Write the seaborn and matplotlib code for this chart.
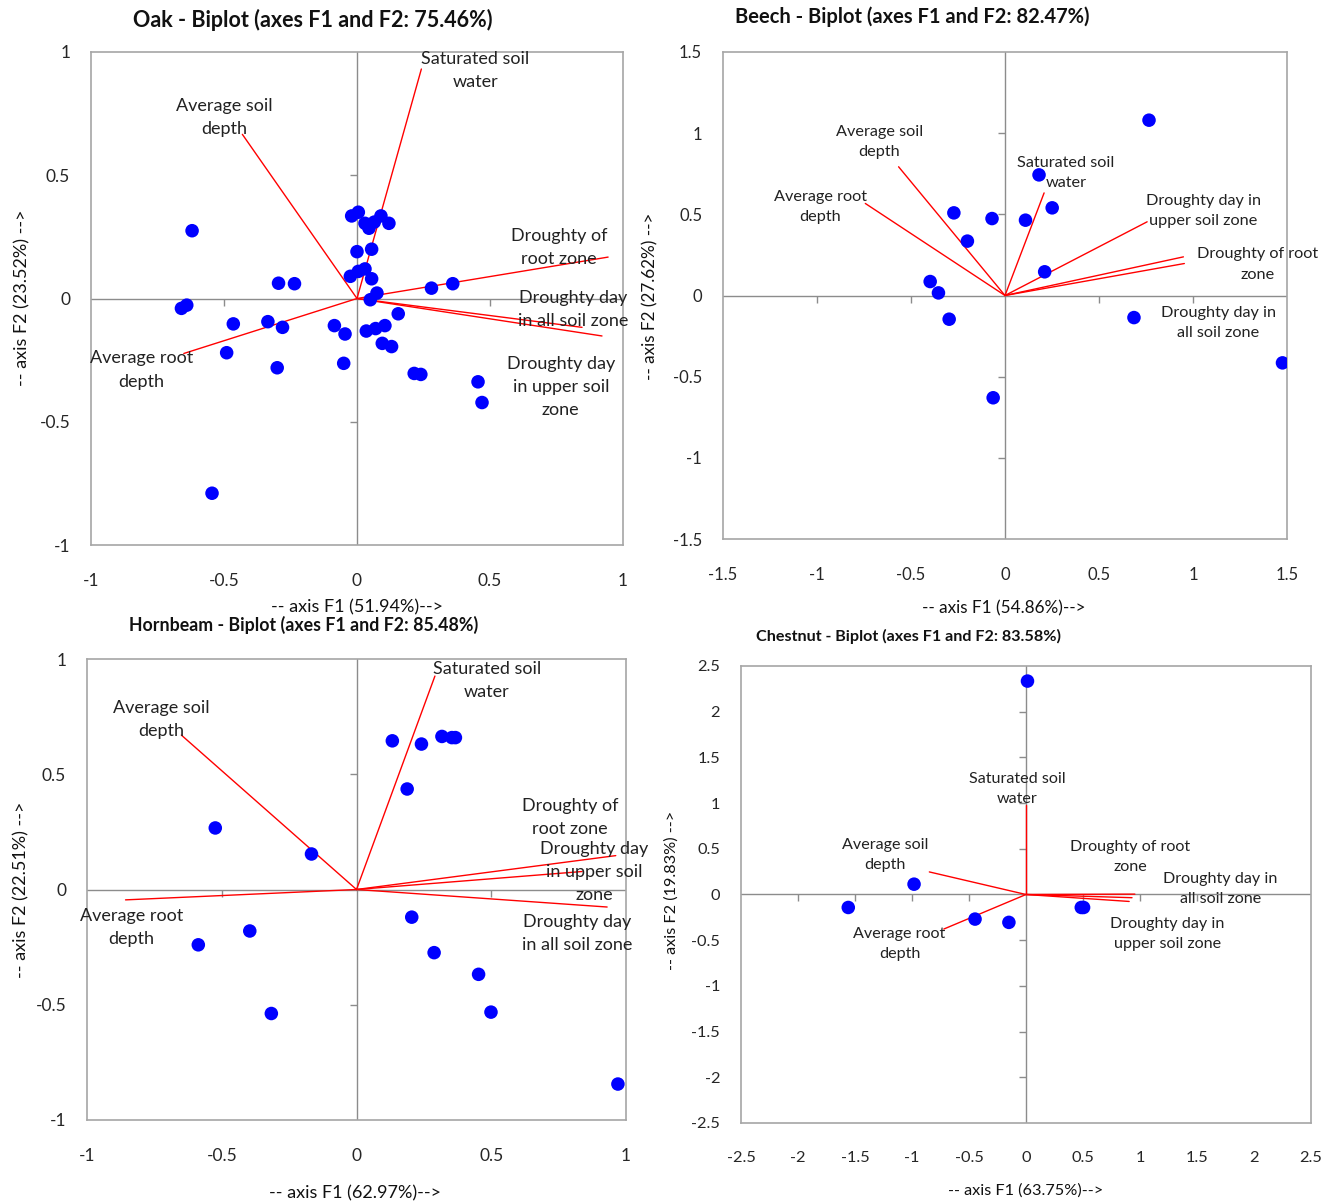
import numpy as np
import matplotlib
matplotlib.use("Agg")
import matplotlib.pyplot as plt
import seaborn as sns

sns.set_style("white")
plt.rcParams['font.family'] = ['Lato', 'DejaVu Sans']
plt.rcParams['axes.unicode_minus'] = False

# variables (order used in every panel)
variables = ["Saturated soil water", "Average soil depth", "Average root depth",
             "Droughty of root zone", "Droughty day in all soil zone",
             "Droughty day in upper soil zone"]

# ---- Oak ----
oak_f1 = [-0.62, -0.02, 0.005, 0.03, 0.045, 0.065, 0.09, 0.12, 0.0, 0.055, -0.025, 0.005,
          0.03, 0.055, -0.295, -0.235, 0.075, 0.28, 0.36, -0.66, -0.64, 0.05, -0.465, -0.335,
          -0.28, -0.085, -0.045, 0.155, 0.035, 0.07, 0.105, 0.095, 0.13, -0.49, -0.3, -0.05,
          0.215, 0.24, 0.455, 0.47, -0.545]
oak_f2 = [0.275, 0.335, 0.35, 0.305, 0.285, 0.31, 0.335, 0.305, 0.19, 0.2, 0.09, 0.11,
          0.12, 0.08, 0.062, 0.06, 0.022, 0.042, 0.06, -0.04, -0.027, -0.005, -0.103, -0.094,
          -0.117, -0.11, -0.144, -0.062, -0.132, -0.122, -0.11, -0.182, -0.195, -0.22, -0.281,
          -0.263, -0.304, -0.308, -0.338, -0.422, -0.79]
oak_var_f1 = [0.242, -0.431, -0.651, 0.944, 0.846, 0.921]
oak_var_f2 = [0.931, 0.666, -0.223, 0.168, -0.117, -0.152]
oak_labels = ["Saturated soil\nwater", "Average soil\ndepth", "Average root\ndepth",
              "Droughty of\nroot zone", "Droughty day\nin all soil zone",
              "Droughty day\nin upper soil\nzone"]
oak_lab_x = [0.445, -0.499, -0.81, 0.759, 0.811, 0.766]
oak_lab_y = [0.925, 0.734, -0.29, 0.208, -0.043, -0.358]

# ---- Beech ----
beech_f1 = [0.766, 0.181, 0.251, -0.272, -0.069, 0.109, -0.2, 0.211, -0.398, -0.354,
            -0.297, 0.686, 1.476, -0.063]
beech_f2 = [1.08, 0.743, 0.54, 0.509, 0.474, 0.464, 0.335, 0.146, 0.086, 0.016,
            -0.146, -0.136, -0.415, -0.63]
beech_var_f1 = [0.208, -0.566, -0.743, 0.949, 0.954, 0.756]
beech_var_f2 = [0.632, 0.793, 0.567, 0.238, 0.197, 0.454]
beech_labels = ["Saturated soil\nwater", "Average soil\ndepth", "Average root\ndepth",
                "Droughty of root\nzone", "Droughty day in\nall soil zone",
                "Droughty day in\nupper soil zone"]
beech_lab_x = [0.324, -0.669, -0.983, 1.345, 1.135, 1.055]
beech_lab_y = [0.752, 0.947, 0.546, 0.191, -0.168, 0.522]

# ---- Hornbeam ----
hornbeam_f1 = [0.133, 0.241, 0.317, 0.354, 0.367, 0.188, -0.524, -0.167, 0.205, -0.396,
               -0.587, 0.288, 0.453, -0.316, 0.499, 0.97]
hornbeam_f2 = [0.645, 0.631, 0.664, 0.659, 0.659, 0.436, 0.267, 0.154, -0.12, -0.18,
               -0.24, -0.274, -0.368, -0.538, -0.532, -0.844]
hornbeam_var_f1 = [0.291, -0.65, -0.857, 0.962, 0.93, 0.837]
hornbeam_var_f2 = [0.926, 0.67, -0.045, 0.147, -0.076, 0.078]
hornbeam_labels = ["Saturated soil\nwater", "Average soil\ndepth", "Average root\ndepth",
                   "Droughty of\nroot zone", "Droughty day\nin all soil zone",
                   "Droughty day\nin upper soil\nzone"]
hornbeam_lab_x = [0.484, -0.725, -0.834, 0.793, 0.82, 0.883]
hornbeam_lab_y = [0.908, 0.739, -0.166, 0.313, -0.192, 0.075]

# ---- Chestnut ----
chestnut_f1 = [0.013, -0.982, -1.559, -0.447, -0.15, 0.485, 0.505]
chestnut_f2 = [2.335, 0.113, -0.142, -0.269, -0.305, -0.142, -0.142]
chestnut_var_f1 = [0.0, -0.848, -0.721, 0.955, 0.93, 0.905]
chestnut_var_f2 = [0.978, 0.247, -0.378, 0.004, -0.035, -0.076]
chestnut_labels = ["Saturated soil\nwater", "Average soil\ndepth", "Average root\ndepth",
                   "Droughty of root\nzone", "Droughty day in\nall soil zone",
                   "Droughty day in\nupper soil zone"]
chestnut_lab_x = [-0.08, -1.239, -1.109, 0.912, 1.706, 1.239]
chestnut_lab_y = [1.153, 0.433, -0.542, 0.407, 0.058, -0.429]

W, H = 1325, 1202
fig = plt.figure(figsize=(W / 100, H / 100), dpi=100)


def box(l, t, r, b):
    # pixel box -> figure fraction rect
    return [l / W, 1 - b / H, (r - l) / W, (b - t) / H]


def biplot(ax, f1, f2, vf1, vf2, labels, lx, ly, lim, lab_fs=13, tick_fs=12.5):
    ticks = np.arange(-lim, lim + 0.01, 0.5)
    ax.axhline(0, color='#8c8c8c', lw=1, zorder=1)
    ax.axvline(0, color='#8c8c8c', lw=1, zorder=1)
    inner = [t for t in ticks if abs(t) > 1e-9 and abs(abs(t) - lim) > 1e-9]
    ax.plot(inner, np.zeros(len(inner)), ls='none', marker=3, ms=5, color='#8c8c8c', mew=1)
    ax.plot(np.zeros(len(inner)), inner, ls='none', marker=0, ms=5, color='#8c8c8c', mew=1)
    for x, y in zip(vf1, vf2):
        ax.plot([0, x], [0, y], color='red', lw=1, zorder=2)
    sns.scatterplot(x=f1, y=f2, ax=ax, color='#0000ff', s=95, edgecolor='none', zorder=3)
    for s, x, y in zip(labels, lx, ly):
        ax.text(x, y, s, ha='center', va='center', fontsize=lab_fs, color='#222222',
                linespacing=1.55, zorder=4, clip_on=False)
    ax.set_xlim(-lim, lim)
    ax.set_ylim(-lim, lim)
    ax.set_xticks(ticks)
    ax.set_yticks(ticks)
    ax.set_xticklabels(['%g' % t for t in ticks])
    ax.set_yticklabels(['%g' % t for t in ticks])
    ax.tick_params(axis='x', length=0, pad=20, labelsize=tick_fs)
    ax.tick_params(axis='y', length=0, pad=15, labelsize=tick_fs)
    for sp in ax.spines.values():
        sp.set_color('#a6a6a6')
        sp.set_linewidth(1.2)


ax1 = fig.add_axes(box(91, 52, 623, 545))
biplot(ax1, oak_f1, oak_f2, oak_var_f1, oak_var_f2, oak_labels, oak_lab_x, oak_lab_y, 1)
ax2 = fig.add_axes(box(723, 52, 1287, 539))
biplot(ax2, beech_f1, beech_f2, beech_var_f1, beech_var_f2, beech_labels, beech_lab_x,
       beech_lab_y, 1.5, lab_fs=11.7, tick_fs=12)
ax3 = fig.add_axes(box(87, 659, 626, 1120))
biplot(ax3, hornbeam_f1, hornbeam_f2, hornbeam_var_f1, hornbeam_var_f2, hornbeam_labels,
       hornbeam_lab_x, hornbeam_lab_y, 1)
ax4 = fig.add_axes(box(741, 666, 1311, 1123))
biplot(ax4, chestnut_f1, chestnut_f2, chestnut_var_f1, chestnut_var_f2, chestnut_labels,
       chestnut_lab_x, chestnut_lab_y, 2.5, lab_fs=11.6, tick_fs=11.8)


def ftext(px, py, s, **kw):
    fig.text(px / W, 1 - py / H, s, ha='center', va='center', color='#111111', **kw)


ftext(313, 20, "Oak - Biplot (axes F1 and F2: 75.46%)", fontsize=15.5, fontweight='bold')
ftext(912, 17, "Beech - Biplot (axes F1 and F2: 82.47%)", fontsize=14.5, fontweight='bold')
ftext(304, 625, "Hornbeam - Biplot (axes F1 and F2: 85.48%)", fontsize=12.8, fontweight='bold')
ftext(909, 636, "Chestnut - Biplot (axes F1 and F2: 83.58%)", fontsize=11.6, fontweight='bold')

ftext(357, 607, "-- axis F1 (51.94%)-->", fontsize=13)
ftext(1004, 608, "-- axis F1 (54.86%)-->", fontsize=12.3)
ftext(355, 1193, "-- axis F1 (62.97%)-->", fontsize=13)
ftext(1026, 1191, "-- axis F1 (63.75%)-->", fontsize=11.7)

ftext(22, 298, "-- axis F2 (23.52%) -->", fontsize=13, rotation=90)
ftext(650, 296, "-- axis F2 (27.62%) -->", fontsize=12.3, rotation=90)
ftext(21, 890, "-- axis F2 (22.51%) -->", fontsize=13, rotation=90)
ftext(672, 890, "-- axis F2 (19.83%) -->", fontsize=11.7, rotation=90)

fig.savefig("out.png", dpi=100)
